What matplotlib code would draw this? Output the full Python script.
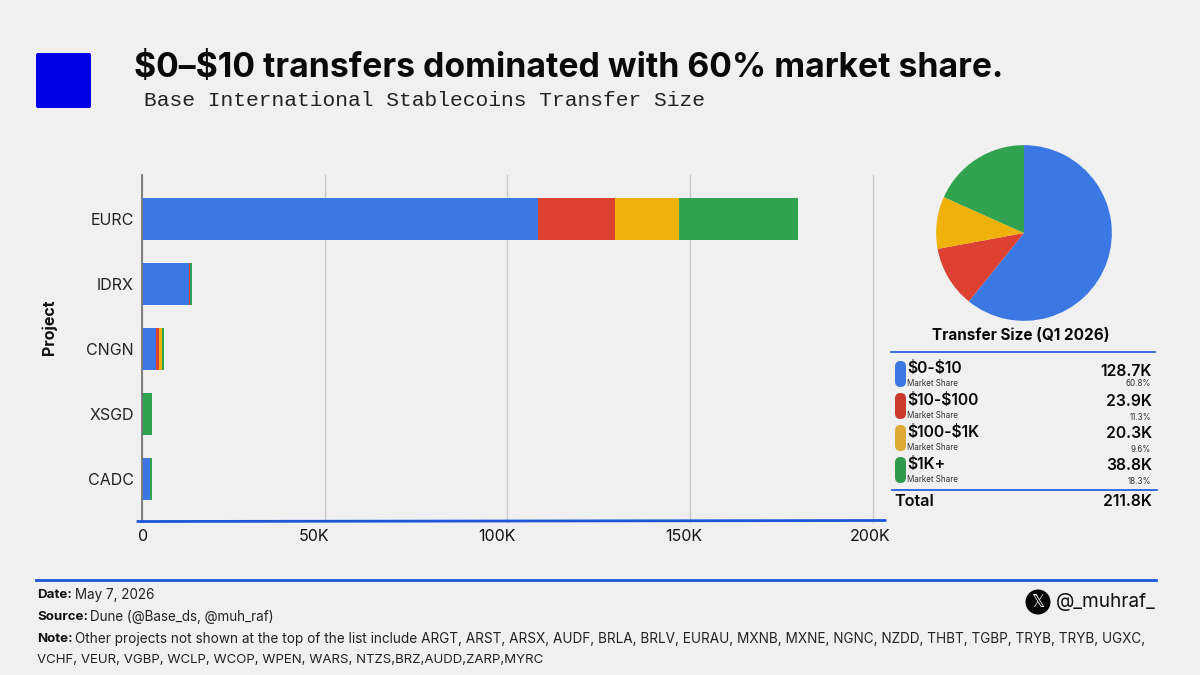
import matplotlib
matplotlib.use('Agg')
import matplotlib.pyplot as plt
from matplotlib.patches import FancyBboxPatch, Circle
from matplotlib.transforms import ScaledTranslation

projects = ['EURC', 'IDRX', 'CNGN', 'XSGD', 'CADC']
blue_vals = [108.3, 12.9, 3.8, 0.2, 2.3]
red_vals = [21.1, 0.2, 0.8, 0.0, 0.0]
yellow_vals = [17.5, 0.1, 0.8, 0.0, 0.0]
green_vals = [32.6, 0.5, 0.5, 2.4, 0.3]
xticks = [0, 50, 100, 150, 200]
xticklabels = ['0', '50K', '100K', '150K', '200K']

size_labels = [r'\$0-\$10', r'\$10-\$100', r'\$100-\$1K', r'\$1K+']
size_values = ['128.7K', '23.9K', '20.3K', '38.8K']
size_shares = [60.8, 11.3, 9.6, 18.3]
total_label = '211.8K'

BG = '#f0f0f0'
colors = ['#3c78e4', '#dc4132', '#eeb20b', '#31a24f']
legend_colors = ['#3c78e4', '#cc3a2e', '#dcaa35', '#2f9a4c']
LINE = '#1a56d6'
W, H = 1200, 675

plt.rcParams['font.family'] = ['Inter', 'DejaVu Sans']

fig = plt.figure(figsize=(12, 6.75), dpi=100, facecolor=BG)


def box(l, t, r, b):
    return [l / W, 1 - b / H, (r - l) / W, (b - t) / H]


# stacked bars
ax = fig.add_axes(box(142, 175, 873, 522), facecolor='none')
ypos = list(range(len(projects)))
left = [0] * len(projects)
for vals, c in zip([blue_vals, red_vals, yellow_vals, green_vals], colors):
    ax.barh(ypos, vals, left=left, height=0.65, color=c, zorder=3)
    left = [a + b for a, b in zip(left, vals)]
ax.set_xlim(0, 200)
ax.set_ylim(4.66, -0.677)
ax.set_yticks(ypos)
ax.set_yticklabels(projects, fontsize=11.5, color='#222222')
ax.set_xticks(xticks)
ax.set_xticklabels(xticklabels, fontsize=11.5, color='#111111')
ax.tick_params(length=0)
ax.tick_params(axis='x', pad=5)
ax.tick_params(axis='y', pad=6)
ax.grid(axis='x', color='#c8c8c8', lw=1, zorder=0)
for g in ax.get_xgridlines():
    g.set_clip_on(False)
# the tick labels in the original sit a little left of their gridlines
for lab, dx in zip(ax.get_xticklabels(), [1, -10.5, -10.5, -6, -2.5]):
    lab.set_transform(lab.get_transform() + ScaledTranslation(dx / 100, 0, fig.dpi_scale_trans))
for s in ['top', 'right', 'bottom']:
    ax.spines[s].set_visible(False)
ax.spines['left'].set_color('#777777')
ax.spines['left'].set_linewidth(1.3)
ax.spines['left'].set_zorder(5)
ax.set_ylabel('Project', fontsize=11.5, fontweight='bold', color='#111111')
ax.yaxis.set_label_coords(-85 / 731, 0.56)

# pie
pax = fig.add_axes(box(930, 139, 1118, 327))
pax.pie(size_shares, colors=colors, startangle=90, counterclock=False, radius=1.0)
pax.set_xlim(-1.07, 1.07)
pax.set_ylim(-1.07, 1.07)

# overlay in pixel coords
ov = fig.add_axes([0, 0, 1, 1], facecolor='none', zorder=10)
ov.set_xlim(0, W)
ov.set_ylim(H, 0)
ov.axis('off')


def txt(x, y, s, size, weight='normal', color='#0a0a0a', ha='left', va='center', **kw):
    ov.text(x, y, s, fontsize=size, fontweight=weight, color=color, ha=ha, va=va, **kw)


# header
ov.add_patch(FancyBboxPatch((36, 53), 55, 55, boxstyle='round,pad=0,rounding_size=2',
                            fc='#0000e6', ec='none'))
txt(134, 68, r'\$0–\$10 transfers dominated with 60% market share.', 24.3, 'bold')
txt(144, 100, 'Base International Stablecoins Transfer Size', 15.3, color='#222222',
    family='Liberation Mono')

# axis underline
ov.plot([138, 885], [521.5, 520.5], color=LINE, lw=2)

# legend table
txt(1021, 336, 'Transfer Size (Q1 2026)', 11, 'bold', ha='center')
ov.plot([891, 1155], [352, 352], color=LINE, lw=1.2)
ov.plot([892, 1157], [489.5, 489.5], color=LINE, lw=1.2)
value_y = [371.5, 401, 433, 465]
share_y = [383, 418, 450, 482]
for i in range(len(size_labels)):
    y = 361 + i * 32
    ov.add_patch(FancyBboxPatch((895, y), 11, 26, boxstyle='round,pad=0,rounding_size=5.5',
                                fc=legend_colors[i], ec='none'))
    txt(907, y + 8, size_labels[i], 11.3, 'semibold')
    txt(907, y + 22, 'Market Share', 5.8, color='#333333')
    txt(1152, value_y[i], size_values[i], 11.3, 'semibold', ha='right')
    txt(1151, share_y[i], '%.1f%%' % size_shares[i], 5.8, color='#333333', ha='right')
txt(894, 501, 'Total', 11.7, 'semibold')
txt(1152, 501, total_label, 11.3, 'semibold', ha='right')

# footer
ov.plot([36, 1156], [580, 580], color=LINE, lw=2)
txt(37, 595, 'Date:', 9.6, 'bold', color='#111111')
txt(75, 595, 'May 7, 2026', 9.7, color='#222222')
txt(37, 617, 'Source:', 9.6, 'bold', color='#111111')
txt(90, 617, 'Dune (@Base_ds, @muh_raf)', 9.7, color='#222222')
txt(37, 639, 'Note:', 9.6, 'bold', color='#111111')
txt(75, 639, 'Other projects not shown at the top of the list include ARGT, ARST, ARSX, AUDF, BRLA, BRLV, '
    'EURAU, MXNB, MXNE, NGNC, NZDD, THBT, TGBP, TRYB, TRYB, UGXC,', 9.78, color='#222222')
txt(37, 660, 'VCHF, VEUR, VGBP, WCLP, WCOP, WPEN, WARS, NTZS,BRZ,AUDD,ZARP,MYRC', 9.55, color='#222222')

# handle
ov.add_patch(Circle((1038, 602), 12.5, fc='#050505', ec='none'))
txt(1038, 602, '\U0001D54F', 12, color='white', ha='center', family='DejaVu Sans')
txt(1056, 602, '@_muhraf_', 13.7, color='#111111')

fig.savefig('out.png', dpi=100, facecolor=BG)
